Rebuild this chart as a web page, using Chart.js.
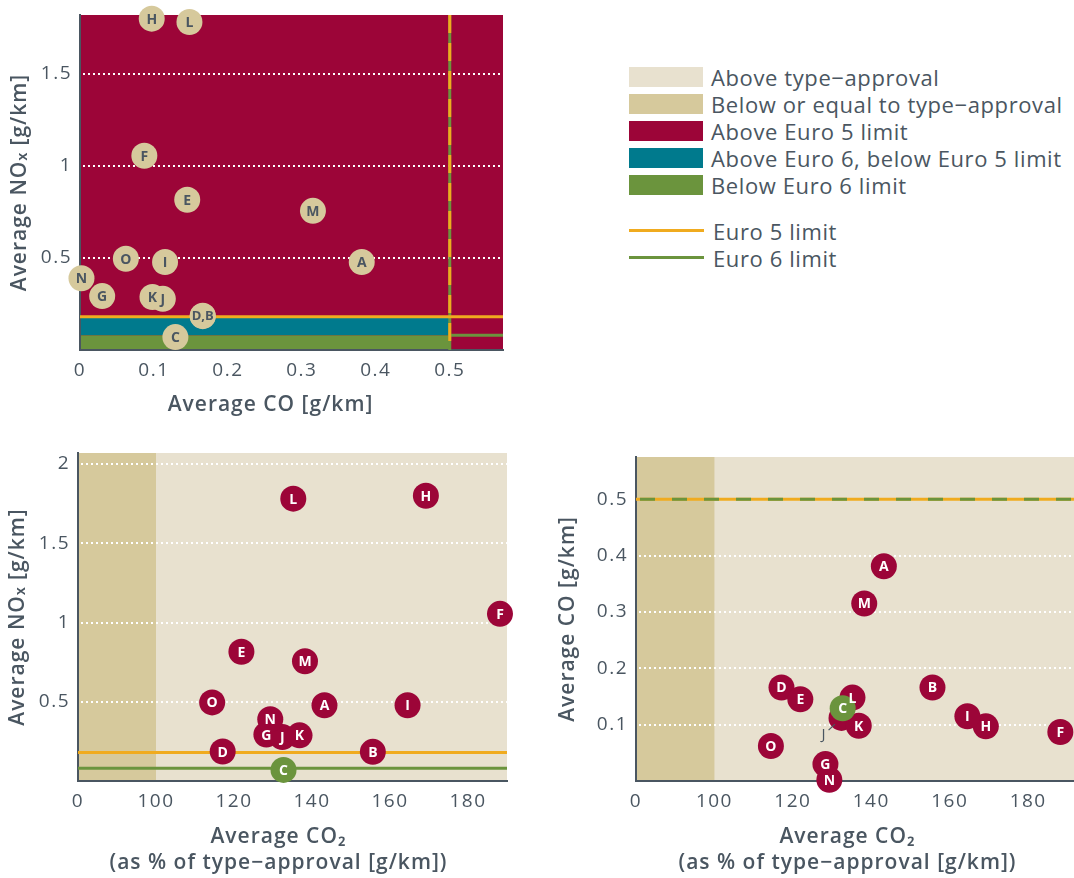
<!DOCTYPE html>
<html>
<head>
<meta charset="UTF-8">
<title>Average NOx, CO and CO2 per vehicle</title>
<script src="https://cdn.jsdelivr.net/npm/chart.js@4.4.1/dist/chart.umd.min.js"></script>
<style>
  html, body { margin: 0; padding: 0; background: #fff; overflow: hidden; }
  body { width: 1074px; height: 878px; position: relative; font-family: "Open Sans", sans-serif; color: #4a5661; }
  canvas { position: absolute; }
  #legend .sw { position: absolute; left: 629px; width: 74px; height: 20px; }
  #legend .ln { position: absolute; left: 629px; width: 75px; height: 3px; }
  #legend .tx { position: absolute; font-size: 22px; line-height: 20px; letter-spacing: 0.6px; white-space: nowrap; }
</style>
</head>
<body>
<canvas id="coNox" width="520" height="420" style="left:0;top:0"></canvas>
<canvas id="co2Nox" width="540" height="438" style="left:0;top:440px"></canvas>
<canvas id="co2Co" width="560" height="438" style="left:540px;top:440px"></canvas>

<div id="legend">
  <div class="sw" style="top:67px;background:#e8e1cf"></div>
  <div class="tx" style="top:67px;left:711px">Above type−approval</div>
  <div class="sw" style="top:94px;background:#d6c99c"></div>
  <div class="tx" style="top:94px;left:711px">Below or equal to type−approval</div>
  <div class="sw" style="top:121px;background:#9c0538"></div>
  <div class="tx" style="top:121px;left:711px">Above Euro 5 limit</div>
  <div class="sw" style="top:148px;background:#007a8d"></div>
  <div class="tx" style="top:148px;left:711px">Above Euro 6, below Euro 5 limit</div>
  <div class="sw" style="top:175px;background:#6b943d"></div>
  <div class="tx" style="top:175px;left:711px">Below Euro 6 limit</div>
  <div class="ln" style="top:229px;background:#f0ab1f"></div>
  <div class="tx" style="top:221px;left:713px">Euro 5 limit</div>
  <div class="ln" style="top:256px;background:#6b943d"></div>
  <div class="tx" style="top:248px;left:713px">Euro 6 limit</div>
</div>

<script>
// vehicle data
var vehicles = ["A","B","C","D","E","F","G","H","I","J","K","L","M","N","O"];
var avgCO  = [0.381,0.166,0.129,0.166,0.145,0.087,0.030,0.097,0.115,0.112,0.098,0.148,0.315,0.002,0.062];
var avgNOx = [0.478,0.184,0.070,0.186,0.816,1.055,0.293,1.800,0.478,0.278,0.288,1.782,0.756,0.390,0.496];
var avgCO2 = [143.2,155.6,132.7,117.1,121.9,188.2,128.3,169.2,164.5,132.4,136.8,135.2,138.2,129.3,114.4];

// limits
var euro5NOx = 0.18, euro6NOx = 0.08, euroCO = 0.5, typeApproval = 100;

// ticks
var coTicks = [0, 0.1, 0.2, 0.3, 0.4, 0.5];
var noxTicksTop = [0.5, 1, 1.5];
var noxTicksBottom = [0.5, 1, 1.5, 2];
var coTicksRight = [0.1, 0.2, 0.3, 0.4, 0.5];
var co2Ticks = [0, 100, 120, 140, 160, 180];

var colAboveTA = '#e8e1cf', colBelowTA = '#d6c99c';
var colEuro5 = '#9c0538', colEuro6 = '#007a8d', colBelow6 = '#6b943d', colOrange = '#f0ab1f';
var textColor = '#4a5661';
var fontFamily = '"Open Sans", sans-serif';

// the co2 axis squeezes 0-100 into the width of 20 units
function co2ToAxis(v) { return v <= typeApproval ? v / 5 : v - typeApproval + typeApproval / 5; }
function axisToCo2(a) { return a <= typeApproval / 5 ? a * 5 : a + typeApproval - typeApproval / 5; }

function noxColor(n) { return n > euro5NOx ? colEuro5 : (n > euro6NOx ? colEuro6 : colBelow6); }

function strokeLine(ctx, x0, y0, x1, y1, color, width, dash) {
  ctx.save();
  ctx.strokeStyle = color; ctx.lineWidth = width; ctx.setLineDash(dash || []);
  ctx.beginPath(); ctx.moveTo(x0, y0); ctx.lineTo(x1, y1); ctx.stroke();
  ctx.restore();
}

function dottedGrid(chart, values) {
  var a = chart.chartArea, y = chart.scales.y;
  values.forEach(function (v) {
    var py = Math.round(y.getPixelForValue(v));
    strokeLine(chart.ctx, a.left + 3, py, a.right, py, '#ffffff', 2, [2, 3]);
  });
}

// the original typeface is wider, so open up the axis text a little;
// horizontal titles also sit a bit left of the plot centre
function widenText(titleShift) {
  return function (s) {
    if (s._widened) return;
    s._widened = true;
    var dt = s.drawTitle, dl = s.drawLabels;
    s.drawTitle = function () {
      var c = this.ctx; c.save(); c.letterSpacing = '1px'; c.translate(titleShift || 0, 0);
      dt.apply(this, arguments); c.restore();
    };
    s.drawLabels = function () {
      var c = this.ctx; c.save(); c.letterSpacing = '1.5px'; dl.apply(this, arguments); c.restore();
    };
  };
}

var pointLabels = {
  id: 'pointLabels',
  afterDatasetsDraw: function (chart, args, opts) {
    var ctx = chart.ctx;
    ctx.save();
    ctx.letterSpacing = '0px';
    ctx.textAlign = 'center';
    ctx.textBaseline = 'middle';
    chart.data.datasets.forEach(function (ds, i) {
      var meta = chart.getDatasetMeta(i);
      meta.data.forEach(function (el, j) {
        var id = ds.data[j].id;
        var text = (opts.rename && id in opts.rename) ? opts.rename[id] : id;
        if (!text) return;
        var off = opts.offsets && opts.offsets[id];
        if (off) {
          // label sits outside the circle with a small leader
          var lx = el.x + off.dx, ly = el.y + off.dy;
          var d = Math.sqrt(off.dx * off.dx + off.dy * off.dy);
          strokeLine(ctx, lx + off.dx * -7 / d, ly + off.dy * -7 / d, el.x + off.dx * 9 / d, el.y + off.dy * 9 / d, textColor, 1.2);
          ctx.font = '400 15px ' + fontFamily;
          ctx.fillStyle = textColor;
          ctx.fillText(text, lx, ly);
          return;
        }
        ctx.font = '700 ' + (text.length > 1 ? 13 : 14) + 'px ' + fontFamily;
        ctx.fillStyle = opts.color;
        ctx.fillText(text, el.x, el.y + 1);
      });
    });
    ctx.restore();
  }
};

function yAxis(min, max, ticks, width, title, titlePad) {
  return {
    type: 'linear', min: min, max: max,
    afterBuildTicks: function (s) { s.ticks = ticks.map(function (v) { return { value: v }; }); },
    afterFit: function (s) { s.width = width; s.paddingTop = 0; s.paddingBottom = 0; },
    afterUpdate: widenText(0),
    grid: { display: false, drawTicks: false },
    border: { display: true, color: textColor, width: 2 },
    ticks: { color: textColor, padding: 8, font: { family: fontFamily, size: 19 },
             callback: function (v) { return String(v); } },
    title: { display: true, text: title, color: textColor,
             font: { family: fontFamily, size: 21, weight: '600', lineHeight: 1.24 }, padding: { top: titlePad, bottom: 0 } }
  };
}

function xAxis(min, max, ticks, height, title, callback, titleShift) {
  return {
    type: 'linear', min: min, max: max,
    afterBuildTicks: function (s) { s.ticks = ticks.map(function (v) { return { value: v }; }); },
    afterFit: function (s) { s.height = height; s.paddingLeft = 0; s.paddingRight = 0; },
    afterUpdate: widenText(titleShift),
    grid: { display: false, drawTicks: false },
    border: { display: true, color: textColor, width: 2 },
    ticks: { color: textColor, padding: 9, font: { family: fontFamily, size: 19 }, callback: callback },
    title: { display: true, text: title, color: textColor,
             font: { family: fontFamily, size: 21, weight: '600', lineHeight: 1.24 }, padding: { top: 0, bottom: 2 } }
  };
}

function baseOptions(scales, padding, labelOpts) {
  return {
    responsive: false, animation: false, devicePixelRatio: 1,
    events: [],
    layout: { padding: padding },
    scales: scales,
    plugins: { legend: { display: false }, tooltip: { enabled: false }, pointLabels: labelOpts }
  };
}

function points(xs, ys, xf) {
  return vehicles.map(function (id, i) {
    return { x: xf ? xf(xs[i]) : xs[i], y: ys[i], id: id, nox: avgNOx[i] };
  });
}

function splitDatasets(pts) {
  var above = pts.filter(function (p) { return p.nox > euro6NOx; });
  var below = pts.filter(function (p) { return p.nox <= euro6NOx; });
  return [
    { data: below, order: 0, backgroundColor: below.map(function (p) { return noxColor(p.nox); }),
      pointRadius: 13, pointHoverRadius: 13, borderWidth: 0, clip: false },
    { data: above, order: 1, backgroundColor: above.map(function (p) { return noxColor(p.nox); }),
      pointRadius: 13, pointHoverRadius: 13, borderWidth: 0, clip: false }
  ];
}

// top chart: CO vs NOx
var topZones = {
  id: 'topZones',
  beforeDraw: function (chart) {
    var ctx = chart.ctx, a = chart.chartArea, x = chart.scales.x, y = chart.scales.y;
    var xl = x.getPixelForValue(euroCO), y5 = y.getPixelForValue(euro5NOx), y6 = y.getPixelForValue(euro6NOx);
    ctx.save();
    ctx.fillStyle = colEuro5; ctx.fillRect(a.left, a.top, a.width, a.height);
    ctx.fillStyle = colEuro6; ctx.fillRect(a.left, y5, xl - a.left, y6 - y5);
    ctx.fillStyle = colBelow6; ctx.fillRect(a.left, y6, xl - a.left, a.bottom - y6);
    ctx.restore();
  },
  beforeDatasetsDraw: function (chart) {
    var ctx = chart.ctx, a = chart.chartArea, x = chart.scales.x, y = chart.scales.y;
    var xl = x.getPixelForValue(euroCO), y5 = y.getPixelForValue(euro5NOx), y6 = y.getPixelForValue(euro6NOx);
    dottedGrid(chart, noxTicksTop);
    strokeLine(ctx, xl, y6, a.right, y6, colBelow6, 3);
    strokeLine(ctx, xl, a.top, xl, a.bottom, colBelow6, 3);
    strokeLine(ctx, xl, a.top, xl, a.bottom, colOrange, 3, [18, 10]);
    strokeLine(ctx, a.left, y5, a.right, y5, colOrange, 3);
  }
};

new Chart(document.getElementById('coNox'), {
  type: 'scatter',
  data: { datasets: [{ data: points(avgCO, avgNOx), backgroundColor: colBelowTA,
                       pointRadius: 13, pointHoverRadius: 13, borderWidth: 0, clip: false }] },
  options: baseOptions({
    x: xAxis(0, 0.572, coTicks, 70, 'Average CO [g/km]', function (v) { return String(v); }, -21),
    y: yAxis(0, 1.82, noxTicksTop, 80, 'Average NOₓ [g/km]', 7)
  }, { top: 15, right: 17, left: 0, bottom: 0 }, { color: textColor, rename: { D: 'D,B', B: '' } }),
  plugins: [topZones, pointLabels]
});

// bottom left: CO2 vs NOx
function taBands(chart) {
  var ctx = chart.ctx, a = chart.chartArea, x = chart.scales.x;
  var xt = x.getPixelForValue(co2ToAxis(typeApproval));
  ctx.save();
  ctx.fillStyle = colAboveTA; ctx.fillRect(a.left, a.top, a.width, a.height);
  ctx.fillStyle = colBelowTA; ctx.fillRect(a.left, a.top, xt - a.left, a.height);
  ctx.restore();
}

var noxZones = {
  id: 'noxZones',
  beforeDraw: taBands,
  beforeDatasetsDraw: function (chart) {
    var ctx = chart.ctx, a = chart.chartArea, y = chart.scales.y;
    dottedGrid(chart, noxTicksBottom);
    var y5 = y.getPixelForValue(euro5NOx), y6 = y.getPixelForValue(euro6NOx);
    strokeLine(ctx, a.left, y5, a.right, y5, colOrange, 3);
    strokeLine(ctx, a.left, y6, a.right, y6, colBelow6, 3);
  }
};

var co2Label = ['Average CO₂', '(as % of type−approval [g/km])'];
var co2Format = function (v) { return String(Math.round(axisToCo2(v))); };

new Chart(document.getElementById('co2Nox'), {
  type: 'scatter',
  data: { datasets: splitDatasets(points(avgCO2, avgNOx, co2ToAxis)) },
  options: baseOptions({
    x: xAxis(0, co2ToAxis(190), co2Ticks.map(co2ToAxis), 97, co2Label, co2Format, -14),
    y: yAxis(0, 2.07, noxTicksBottom, 78, 'Average NOₓ [g/km]', 5)
  }, { top: 7, right: 33, left: 0, bottom: 0 }, { color: '#ffffff' }),
  plugins: [noxZones, pointLabels]
});

// bottom right: CO2 vs CO
var coZones = {
  id: 'coZones',
  beforeDraw: taBands,
  beforeDatasetsDraw: function (chart) {
    var ctx = chart.ctx, a = chart.chartArea, y = chart.scales.y;
    dottedGrid(chart, coTicksRight.filter(function (v) { return v !== euroCO; }));
    var yl = y.getPixelForValue(euroCO);
    strokeLine(ctx, a.left, yl, a.right, yl, colOrange, 3);
    strokeLine(ctx, a.left + 4, yl, a.right, yl, colBelow6, 3, [15, 17]);
  }
};

new Chart(document.getElementById('co2Co'), {
  type: 'scatter',
  data: { datasets: splitDatasets(points(avgCO2, avgCO, co2ToAxis)) },
  options: baseOptions({
    x: xAxis(0, co2ToAxis(195), co2Ticks.map(co2ToAxis), 97, co2Label, co2Format, -14),
    y: yAxis(0, 0.575, coTicksRight, 96, 'Average CO [g/km]', 15)
  }, { top: 17, right: 13, left: 0, bottom: 0 }, { color: '#ffffff', offsets: { J: { dx: -18, dy: 17 } } }),
  plugins: [coZones, pointLabels]
});
</script>
</body>
</html>
